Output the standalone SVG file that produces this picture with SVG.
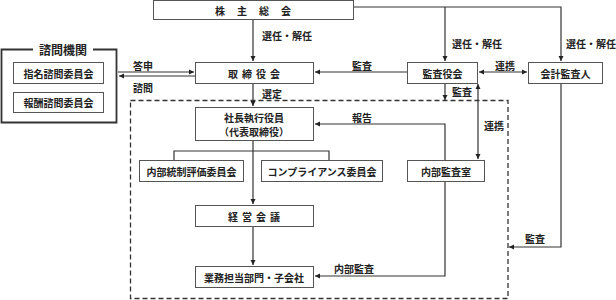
<svg xmlns="http://www.w3.org/2000/svg" width="616" height="300" viewBox="0 0 616 300">
<style>
.box{fill:#fff;stroke:#555;stroke-width:1}
.t{font-family:"Noto Sans CJK JP","Liberation Sans",sans-serif;font-size:10px;font-weight:bold;fill:#222;text-anchor:middle;dominant-baseline:central}
.l{font-family:"Noto Sans CJK JP","Liberation Sans",sans-serif;font-size:10px;font-weight:bold;fill:#222;dominant-baseline:central}
.c{fill:none;stroke:#333;stroke-width:1.2}
</style>
<defs>
<marker id="a" markerUnits="userSpaceOnUse" markerWidth="6" markerHeight="6" refX="5" refY="3" orient="auto-start-reverse">
<path d="M0,0.5 L5,3 L0,5.5 Z" fill="#222"/>
</marker>
</defs>
<rect x="0" y="0" width="616" height="300" fill="#fff"/>
<rect x="130.5" y="100.5" width="377.5" height="198" fill="none" stroke="#333" stroke-width="1.3" stroke-dasharray="5,3"/>
<g id="connectors">
<path class="c" d="M253,19 V61" marker-end="url(#a)"/>
<path class="c" d="M253,83 V106" marker-end="url(#a)"/>
<path class="c" d="M253,140 V204" marker-end="url(#a)"/>
<path class="c" d="M174,160 V151 H329 V160"/>
<path class="c" d="M253,226 V265" marker-end="url(#a)"/>
<path class="c" d="M353,7 H561 V61" marker-end="url(#a)"/>
<path class="c" d="M445,7 V61" marker-end="url(#a)"/>
<path class="c" d="M407,72 H315" marker-end="url(#a)"/>
<path class="c" d="M479,72 H527" marker-start="url(#a)" marker-end="url(#a)"/>
<path class="c" d="M445,83 V100" marker-end="url(#a)"/>
<path class="c" d="M478,84 V159" marker-start="url(#a)" marker-end="url(#a)"/>
<path class="c" d="M445,160 V124 H315" marker-end="url(#a)"/>
<path class="c" d="M445,181 V276 H315" marker-end="url(#a)"/>
<path class="c" d="M561,83 V247 H509" marker-end="url(#a)"/>
<path class="c" d="M118,72 H194" marker-end="url(#a)"/>
<path class="c" d="M195,76 H119" marker-end="url(#a)"/>
</g>
<g id="labels">
<text class="l" x="262" y="35">選任・解任</text>
<text class="l" x="452" y="43">選任・解任</text>
<text class="l" x="566" y="43">選任・解任</text>
<text class="l" x="133" y="65">答申</text>
<text class="l" x="133" y="87">諮問</text>
<text class="l" x="262" y="93">選定</text>
<text class="l" x="352" y="65">監査</text>
<text class="l" x="495" y="65">連携</text>
<text class="l" x="452" y="91">監査</text>
<text class="l" x="484" y="125">連携</text>
<text class="l" x="352" y="117">報告</text>
<text class="l" x="334" y="268">内部監査</text>
<text class="l" x="525" y="238">監査</text>
</g>
<g id="shareholders">
<rect class="box" x="153.5" y="0.5" width="200" height="19"/>
<text class="t" x="259" y="10" letter-spacing="12">株主総会</text>
</g>
<g id="board">
<rect class="box" x="195.5" y="62.5" width="118" height="21"/>
<text class="t" x="256" y="73" letter-spacing="4">取締役会</text>
</g>
<g id="president">
<rect class="box" x="195.5" y="107.5" width="118" height="33"/>
<text class="t" x="254" y="117">社長執行役員</text>
<text class="t" x="254" y="131.5">（代表取締役）</text>
</g>
<g id="internal-control">
<rect class="box" x="139.5" y="160.5" width="104" height="21"/>
<text class="t" x="191.5" y="171">内部統制評価委員会</text>
</g>
<g id="compliance">
<rect class="box" x="261.5" y="160.5" width="121" height="21"/>
<text class="t" x="322" y="171">コンプライアンス委員会</text>
</g>
<g id="management">
<rect class="box" x="195.5" y="205.5" width="118" height="21"/>
<text class="t" x="256" y="216" letter-spacing="4">経営会議</text>
</g>
<g id="business">
<rect class="box" x="195.5" y="266.5" width="118" height="21"/>
<text class="t" x="254" y="277">業務担当部門・子会社</text>
</g>
<g id="auditors">
<rect class="box" x="407.5" y="62.5" width="70" height="21"/>
<text class="t" x="442.5" y="73">監査役会</text>
</g>
<g id="accounting-auditor">
<rect class="box" x="528.5" y="62.5" width="74" height="21"/>
<text class="t" x="565.5" y="73">会計監査人</text>
</g>
<g id="internal-audit">
<rect class="box" x="407.5" y="160.5" width="77" height="21"/>
<text class="t" x="446" y="171">内部監査室</text>
</g>
<g id="advisory">
<path d="M33,49.5 H1.5 V122.5 H116.5 V49.5 H93" fill="none" stroke="#333" stroke-width="1.8"/>
<text class="t" x="63" y="49" style="font-size:12px">諮問機関</text>
</g>
<g id="nomination">
<rect class="box" x="13.5" y="62.5" width="90" height="21"/>
<text class="t" x="58.5" y="73">指名諮問委員会</text>
</g>
<g id="remuneration">
<rect class="box" x="13.5" y="92.5" width="90" height="20"/>
<text class="t" x="58.5" y="102.5">報酬諮問委員会</text>
</g>
</svg>
